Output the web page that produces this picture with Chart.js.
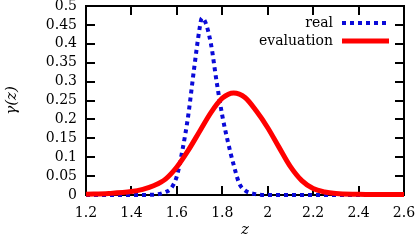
<!DOCTYPE html>
<html>
<head>
<meta charset="utf-8">
<script src="https://cdn.jsdelivr.net/npm/chart.js@4/dist/chart.umd.min.js"></script>
<style>
  html, body { margin: 0; padding: 0; background: #fff; }
  #wrap { width: 420px; height: 242px; }
</style>
</head>
<body>
<div id="wrap"><canvas id="gammaChart" width="420" height="242"></canvas></div>
<script>
// values
const zReal = [1.2, 1.3, 1.4, 1.5, 1.55, 1.575, 1.6, 1.625, 1.65, 1.675, 1.7, 1.71, 1.725, 1.75, 1.775, 1.8, 1.825, 1.85, 1.875, 1.9, 1.95, 2.0, 2.2, 2.4, 2.6];
const gammaReal = [0, 0, 0, 0.001, 0.008, 0.018, 0.05, 0.12, 0.21, 0.33, 0.44, 0.468, 0.458, 0.40, 0.30, 0.21, 0.14, 0.08, 0.03, 0.012, 0.002, 0, 0, 0, 0];

const zEval = [1.2, 1.3, 1.4, 1.45, 1.5, 1.55, 1.6, 1.65, 1.7, 1.75, 1.8, 1.85, 1.9, 1.95, 2.0, 2.05, 2.1, 2.15, 2.2, 2.25, 2.3, 2.4, 2.5, 2.6];
const gammaEval = [0.002, 0.004, 0.009, 0.015, 0.025, 0.042, 0.074, 0.118, 0.168, 0.218, 0.256, 0.27, 0.258, 0.222, 0.178, 0.126, 0.075, 0.038, 0.017, 0.008, 0.004, 0.002, 0.001, 0.001];

const xTicks = [1.2, 1.4, 1.6, 1.8, 2.0, 2.2, 2.4, 2.6];
const xTickLabels = ['1.2', '1.4', '1.6', '1.8', '2', '2.2', '2.4', '2.6'];
const yTicks = [0, 0.05, 0.1, 0.15, 0.2, 0.25, 0.3, 0.35, 0.4, 0.45, 0.5];
const yTickLabels = ['0', '0.05', '0.1', '0.15', '0.2', '0.25', '0.3', '0.35', '0.4', '0.45', '0.5'];

const serif = "'DejaVu Serif', serif";

function toPoints(xs, ys) {
    return xs.map((x, i) => ({ x: x, y: ys[i] }));
}

// gnuplot-like frame with inward ticks on all four sides (under the curves)
const framePlugin = {
    id: 'frame',
    beforeDatasetsDraw(chart) {
        const ctx = chart.ctx;
        const a = chart.chartArea;
        const xs = chart.scales.x, ys = chart.scales.y;
        const len = 9;
        ctx.save();
        ctx.strokeStyle = '#000';
        ctx.lineWidth = 2;
        ctx.beginPath();
        xTicks.forEach(v => {
            const px = Math.round(xs.getPixelForValue(v));
            ctx.moveTo(px, a.bottom); ctx.lineTo(px, a.bottom - len);
            ctx.moveTo(px, a.top); ctx.lineTo(px, a.top + len);
        });
        yTicks.forEach(v => {
            const py = Math.round(ys.getPixelForValue(v));
            ctx.moveTo(a.left, py); ctx.lineTo(a.left + len, py);
            ctx.moveTo(a.right, py); ctx.lineTo(a.right - len, py);
        });
        ctx.stroke();
        ctx.strokeRect(a.left, a.top, a.right - a.left, a.bottom - a.top);
        ctx.restore();
    },
    afterDraw(chart) {
        // key in the top right corner: label, then line sample
        const ctx = chart.ctx;
        const rows = [23, 41];
        ctx.save();
        ctx.font = '14px ' + serif;
        ctx.textAlign = 'right';
        ctx.textBaseline = 'middle';
        chart.data.datasets.forEach((ds, i) => {
            const y = rows[i];
            ctx.fillStyle = '#000';
            ctx.fillText(ds.label, 333, y);
            ctx.strokeStyle = ds.borderColor;
            ctx.lineWidth = ds.borderWidth;
            ctx.setLineDash(ds.borderDash || []);
            ctx.beginPath();
            ctx.moveTo(342, y);
            ctx.lineTo(389, y);
            ctx.stroke();
        });
        ctx.restore();
    }
};

new Chart(document.getElementById('gammaChart'), {
    type: 'line',
    data: {
        datasets: [
            {
                label: 'real',
                data: toPoints(zReal, gammaReal),
                borderColor: '#0a0ad8',
                borderWidth: 4,
                borderDash: [4, 4],
                pointRadius: 0,
                cubicInterpolationMode: 'monotone',
                fill: false,
                clip: 3,
                order: 2
            },
            {
                label: 'evaluation',
                data: toPoints(zEval, gammaEval),
                borderColor: '#ff0000',
                borderWidth: 5,
                pointRadius: 0,
                cubicInterpolationMode: 'monotone',
                fill: false,
                clip: 3,
                order: 1
            }
        ]
    },
    options: {
        responsive: false,
        animation: false,
        layout: { padding: { top: 6, right: 16, left: 0, bottom: 0 } },
        plugins: {
            legend: { display: false },
            tooltip: { enabled: false }
        },
        scales: {
            x: {
                type: 'linear',
                min: 1.2,
                max: 2.6,
                afterBuildTicks: s => { s.ticks = xTicks.map(v => ({ value: v })); },
                afterFit: s => { s.height = 47; s.paddingLeft = 0; s.paddingRight = 0; },
                grid: { display: false, drawTicks: false },
                border: { display: false },
                ticks: {
                    padding: 10,
                    color: '#000',
                    maxRotation: 0,
                    autoSkip: false,
                    font: { family: serif, size: 14 },
                    callback: (v, i) => xTickLabels[i]
                },
                title: {
                    display: true,
                    text: 'z',
                    color: '#000',
                    padding: { top: 0, bottom: 3 },
                    font: { family: serif, size: 15, style: 'italic' }
                }
            },
            y: {
                type: 'linear',
                min: 0,
                max: 0.5,
                afterBuildTicks: s => { s.ticks = yTicks.map(v => ({ value: v })); },
                afterFit: s => { s.width = 86; s.paddingTop = 0; s.paddingBottom = 0; },
                grid: { display: false, drawTicks: false },
                border: { display: false },
                ticks: {
                    padding: 9,
                    color: '#000',
                    autoSkip: false,
                    font: { family: serif, size: 14 },
                    callback: (v, i) => yTickLabels[i]
                },
                title: {
                    display: true,
                    text: 'γ(z)',
                    color: '#000',
                    padding: { top: 3, bottom: 0 },
                    font: { family: serif, size: 15, style: 'italic' }
                }
            }
        }
    },
    plugins: [framePlugin]
});
</script>
</body>
</html>
